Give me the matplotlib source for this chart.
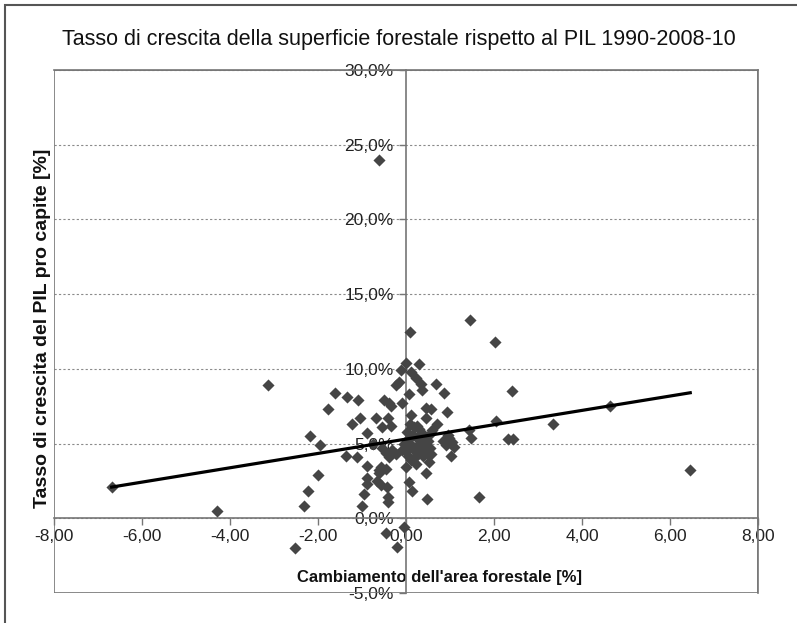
"""Tasso di crescita della superficie forestale rispetto al PIL (scatter + trendline)."""

import numpy as np
import matplotlib
matplotlib.use("Agg")
import matplotlib.pyplot as plt
from matplotlib.patches import Rectangle
from matplotlib.ticker import FuncFormatter, MultipleLocator

plt.rcParams["font.family"] = ["Liberation Sans", "DejaVu Sans"]

TITLE = "Tasso di crescita della superficie forestale rispetto al PIL 1990-2008-10"
X_LABEL = "Cambiamento dell'area forestale [%]"
Y_LABEL = "Tasso di crescita del PIL pro capite [%]"

# cambiamento dell'area forestale [%]
FOREST_CHANGE = [
    -6.69, -4.29, -3.13, -2.52, -0.61, 0.09, 1.45, 2.02, 2.40, 2.31, 2.43,
    3.33, 4.63, 6.46, 1.66, 2.04,
    -2.31, -2.22, -2.00, -2.18, -1.95, -1.77, -1.61, -1.33, -1.09,
    -1.36, -1.11, -1.22, -1.04, -0.88, -0.88, -0.88, -0.88, -0.95, -0.99,
    -0.68, -0.40, -0.54, -0.34,
    -0.50, -0.39, -0.34, -0.23, -0.16, -0.11, 0.00, 0.11, 0.29, 0.23, 0.34,
    0.36, 0.68, 0.86, 0.93, 0.57, 0.45, -0.09, 0.07, 0.11, 0.25, 0.45, 0.36,
    0.57, 0.18,
    0.02, 0.05, 0.10, 0.15, 0.20, 0.25, 0.30, 0.35, 0.40, 0.45, 0.50, 0.00,
    0.05, 0.12, 0.20, 0.28, 0.38, 0.48, 0.15, 0.30, 0.08, -0.05, -0.10, 0.55,
    0.22, 0.60, 0.70,
    0.84, 0.98, 1.04, 1.02, 0.91, 1.43, 1.47, 0.57, 0.52, 0.45, 0.14, 0.07,
    0.48, 0.00, 0.95, 1.10,
    -0.32, -0.45, -0.54, -0.39, -0.23, -0.57, -0.45, -0.61, -0.57, -0.43,
    -0.41, -0.41, -0.66, -0.61, -0.75,
    -0.45, -0.05, -0.20,
]

# tasso di crescita del PIL pro capite [%]
GDP_GROWTH = [
    2.1, 0.5, 8.9, -2.0, 24.0, 12.5, 13.3, 11.8, 8.5, 5.3, 5.3,
    6.3, 7.5, 3.2, 1.4, 6.5,
    0.8, 1.8, 2.9, 5.5, 4.9, 7.3, 8.4, 8.1, 7.9,
    4.2, 4.1, 6.3, 6.7, 5.7, 3.5, 2.7, 2.3, 1.6, 0.8,
    6.7, 6.7, 6.1, 6.2,
    7.9, 7.7, 7.5, 8.9, 9.1, 9.9, 10.4, 9.8, 10.3, 9.4, 9.0,
    8.6, 9.0, 8.4, 7.1, 7.3, 7.4, 7.7, 8.3, 6.9, 6.2, 6.7, 5.7,
    5.7, 6.1,
    5.8, 5.3, 5.0, 4.8, 4.5, 5.4, 5.0, 4.6, 5.3, 4.9, 5.2, 4.5,
    4.2, 3.9, 4.1, 4.3, 4.2, 4.4, 5.6, 6.0, 6.3, 5.0, 4.6, 4.7,
    3.6, 5.9, 6.3,
    5.2, 5.4, 5.1, 4.2, 4.9, 5.9, 5.4, 4.3, 3.8, 3.0, 1.8, 2.4,
    1.3, 3.4, 5.6, 4.8,
    4.6, 4.4, 4.7, 4.1, 4.3, 3.4, 3.3, 3.0, 2.2, 2.1,
    1.4, 1.1, 2.5, 3.2, 5.0,
    -1.0, -0.6, -1.9,
]

# linea di tendenza (lineare)
TREND_SLOPE = 0.48
TREND_INTERCEPT = 5.3

AXIS_GRAY = "#767676"
POINT_GRAY = "#454545"


def main() -> None:
    fig = plt.figure(figsize=(7.97, 6.23), dpi=100)
    ax = fig.add_axes([54 / 797, 30 / 623, 704 / 797, 523 / 623])

    x = np.array(FOREST_CHANGE)
    y = np.array(GDP_GROWTH)

    ax.scatter(x, y, marker="D", s=38, color=POINT_GRAY, linewidths=0, zorder=3)

    xt = np.array([x.min(), x.max()])
    ax.plot(xt, TREND_SLOPE * xt + TREND_INTERCEPT, color="black", linewidth=2.3, zorder=4)

    ax.set_xlim(-8, 8)
    ax.set_ylim(-5, 30)
    ax.xaxis.set_major_locator(MultipleLocator(2))
    ax.yaxis.set_major_locator(MultipleLocator(5))
    ax.xaxis.set_major_formatter(FuncFormatter(lambda v, _: f"{v:.2f}".replace(".", ",")))
    ax.yaxis.set_major_formatter(FuncFormatter(lambda v, _: f"{v:.1f}%".replace(".", ",")))

    # assi che si incrociano nell'origine
    ax.spines["left"].set_position(("data", 0))
    ax.spines["bottom"].set_position(("data", 0))
    for side in ["left", "bottom", "top", "right"]:
        ax.spines[side].set_color(AXIS_GRAY)
        ax.spines[side].set_linewidth(1.2)
    ax.add_patch(Rectangle((0, 0), 1, 1, transform=ax.transAxes, fill=False,
                           edgecolor=AXIS_GRAY, linewidth=1.2, zorder=2))

    ax.tick_params(axis="both", direction="out", length=5, width=1, color=AXIS_GRAY,
                   labelsize=12.5, labelcolor="#222222")
    ax.tick_params(axis="y", pad=4)
    ax.tick_params(axis="x", pad=3)

    ax.yaxis.grid(True, linestyle=(0, (2, 2)), color="#8a8a8a", linewidth=0.8)
    ax.set_axisbelow(True)

    ax.set_xlabel(X_LABEL, fontsize=12, fontweight="bold", color="#111111")
    ax.xaxis.set_label_coords(0.547, 0.044)
    ax.set_ylabel(Y_LABEL, fontsize=14, fontweight="bold", color="#111111")
    ax.yaxis.set_label_coords(-0.004, 0.507)

    fig.text(0.5, 1 - 40 / 623, TITLE, ha="center", va="center", fontsize=15.5, color="#111111")

    # bordo dell'area del grafico
    fig.add_artist(Rectangle((5 / 797, -0.2), 1.5, 1.2 - 5 / 623, transform=fig.transFigure,
                             fill=False, edgecolor="#555555", linewidth=1.5))

    fig.savefig("out.png", dpi=100)


if __name__ == "__main__":
    main()
